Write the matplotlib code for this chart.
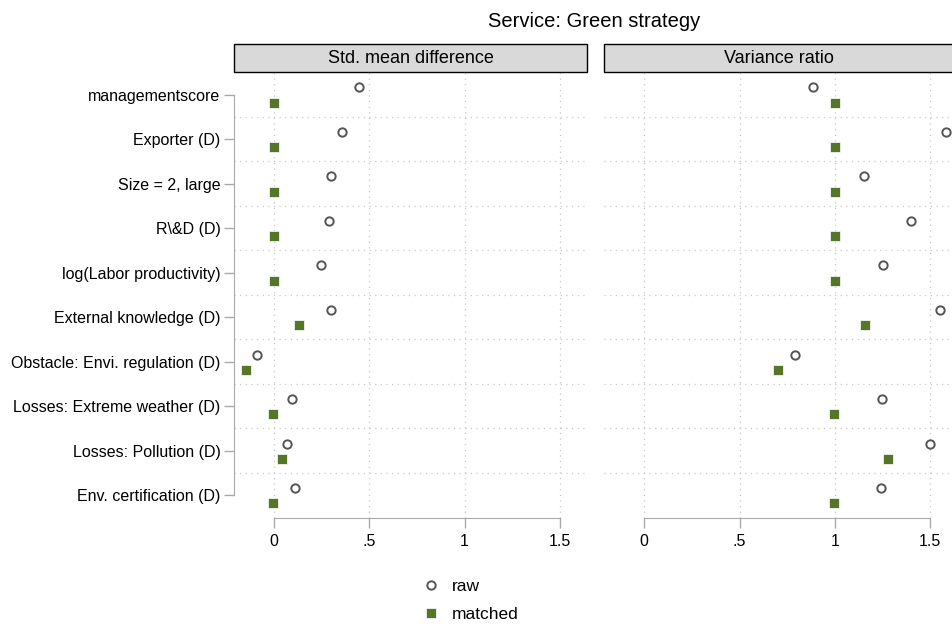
import numpy as np
import matplotlib.pyplot as plt
from matplotlib.patches import Rectangle

plt.rcParams['font.family'] = ['Liberation Sans', 'DejaVu Sans']

# data
covariates = ['managementscore', 'Exporter (D)', 'Size = 2, large', 'R\\&D (D)',
              'log(Labor productivity)', 'External knowledge (D)',
              'Obstacle: Envi. regulation (D)', 'Losses: Extreme weather (D)',
              'Losses: Pollution (D)', 'Env. certification (D)']
smd_raw = [0.447, 0.357, 0.300, 0.293, 0.249, 0.300, -0.088, 0.096, 0.071, 0.113]
smd_matched = [0.0, 0.0, 0.0, 0.0, 0.0, 0.132, -0.142, -0.002, 0.047, -0.002]
vr_raw = [0.886, 1.582, 1.150, 1.400, 1.250, 1.552, 0.789, 1.248, 1.500, 1.241]
vr_matched = [1.002, 1.002, 1.002, 1.002, 1.002, 1.159, 0.703, 0.996, 1.278, 0.993]
panel_titles = ['Std. mean difference', 'Variance ratio']
xticks = [0, 0.5, 1, 1.5]
xticklabels = ['0', '.5', '1', '1.5']

verde = '#557629'
abu = '#555555'
garis = '#aaaaaa'

fig = plt.figure(figsize=(9.53, 6.31), dpi=100)
ax1 = fig.add_axes([0.2459, 0.1786, 0.3698, 0.7068])
ax2 = fig.add_axes([0.6338, 0.1786, 0.3662, 0.7068])

posisi = np.arange(len(covariates))
panel = [(ax1, smd_raw, smd_matched, (-0.205, 1.640)),
         (ax2, vr_raw, vr_matched, (-0.211, 1.619))]

for i, (ax, raw, matched, xl) in enumerate(panel):
    for x in xticks:
        ax.axvline(x, color='#c8c8c8', lw=0.9, ls=(0, (1, 3.5)), zorder=0)
    for y in posisi[:-1] + 0.5:
        ax.axhline(y, color='#c8c8c8', lw=0.9, ls=(0, (1, 3.5)), zorder=0)
    ax.plot(raw, posisi - 0.16, 'o', ms=6, mfc='white', mec=abu, mew=1.4,
            ls='none', label='raw', zorder=3)
    ax.plot(matched, posisi + 0.18, 's', ms=7, mfc=verde, mec='white', mew=0.5,
            ls='none', label='matched', zorder=3)
    ax.set_xlim(xl)
    ax.set_ylim(9.52, -0.5)
    ax.set_xticks(xticks)
    ax.set_xticklabels(xticklabels, fontsize=11.5)
    ax.spines['top'].set_visible(False)
    ax.spines['right'].set_visible(False)
    ax.spines['bottom'].set_color(garis)
    ax.spines['bottom'].set_bounds(0, 1.5)
    ax.spines['left'].set_color(garis)
    ax.spines['left'].set_bounds(0, 9)
    ax.tick_params(axis='x', color=garis, length=7, width=1, pad=4)
    ax.tick_params(axis='y', color=garis, length=7, width=1, pad=3)
    if i == 0:
        ax.set_yticks(posisi)
        ax.set_yticklabels(covariates, fontsize=11.5)
    else:
        ax.set_yticks([])
        ax.spines['left'].set_visible(False)
    # strip
    ax.add_patch(Rectangle((0, 1.0), 1, 0.063, transform=ax.transAxes,
                           facecolor='#d9d9d9', edgecolor='black', lw=1,
                           clip_on=False))
    ax.text(0.5, 1.0315, panel_titles[i], transform=ax.transAxes,
            ha='center', va='center', fontsize=13)

fig.text(0.623, 0.966, 'Service: Green strategy', ha='center', va='center',
         fontsize=14.5)

h, l = ax1.get_legend_handles_labels()
fig.legend(h, l, loc='center', bbox_to_anchor=(0.493, 0.048), frameon=False,
           fontsize=12.5, handletextpad=0.6, labelspacing=0.75, handlelength=1.2)

plt.savefig('out.png', dpi=100)
